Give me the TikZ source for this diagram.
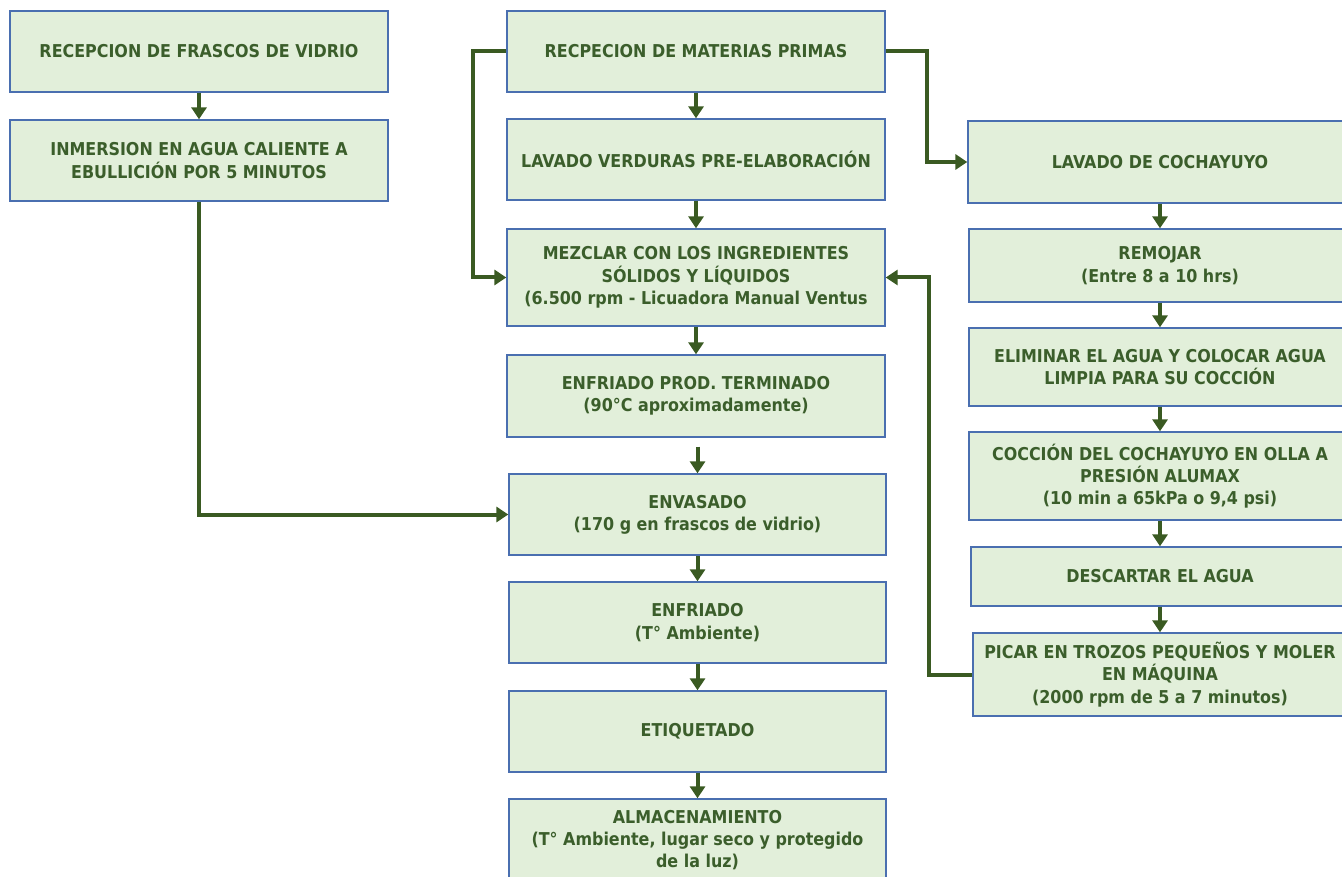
\documentclass[tikz,border=0pt]{standalone}
\usepackage{fontspec}
\setmainfont{DejaVu Sans Condensed}
\usetikzlibrary{arrows.meta}
\definecolor{boxfill}{HTML}{E2EFDA}
\definecolor{boxline}{HTML}{4A6FB0}
\definecolor{txtgreen}{HTML}{3B5E2B}
\definecolor{arrgreen}{HTML}{3A5A22}
\tikzset{
  stepbox/.style={draw=boxline, line width=1.3pt, fill=boxfill, inner sep=0pt,
    align=center, text=txtgreen, font=\fontsize{17.7}{22.3}\selectfont\bfseries},
  arr/.style={draw=arrgreen, line width=4pt,
    -{Triangle[length=12pt,width=15pt]}}
}
\begin{document}
\begin{tikzpicture}[x=1pt,y=-1pt]
\path[use as bounding box] (0,0) rectangle (1342,877);
\clip (0,0) rectangle (1342,877);
% left column
\node[stepbox, minimum width=378, minimum height=81] (n1) at (199,51.5) {RECEPCION DE FRASCOS DE VIDRIO};
\node[stepbox, minimum width=378, minimum height=81] (n2) at (199,160.5) {INMERSION EN AGUA CALIENTE A\\EBULLICIÓN POR 5 MINUTOS};
% center column
\node[stepbox, minimum width=378, minimum height=81] (n3) at (696,51.5) {RECPECION DE MATERIAS PRIMAS};
\node[stepbox, minimum width=378, minimum height=81] (n4) at (696,159.5) {LAVADO VERDURAS PRE-ELABORACIÓN};
\node[stepbox, minimum width=378, minimum height=97] (n5) at (696,277.5) {MEZCLAR CON LOS INGREDIENTES\\SÓLIDOS Y LÍQUIDOS\\(6.500 rpm - Licuadora Manual Ventus};
\node[stepbox, minimum width=378, minimum height=82] (n6) at (696,396) {ENFRIADO PROD. TERMINADO\\(90°C aproximadamente)};
\node[stepbox, minimum width=377, minimum height=81] (n7) at (697.5,514.5) {ENVASADO\\(170 g en frascos de vidrio)};
\node[stepbox, minimum width=377, minimum height=81] (n8) at (697.5,622.5) {ENFRIADO\\(T° Ambiente)};
\node[stepbox, minimum width=377, minimum height=81] (n9) at (697.5,731.5) {ETIQUETADO};
\node[stepbox, minimum width=377, minimum height=82] (n10) at (697.5,840) {ALMACENAMIENTO\\(T° Ambiente, lugar seco y protegido\\de la luz)};
% right column
\node[stepbox, minimum width=384, minimum height=82] (r1) at (1160,162) {LAVADO DE COCHAYUYO};
\node[stepbox, minimum width=382, minimum height=73] (r2) at (1160,265.5) {REMOJAR\\(Entre 8 a 10 hrs)};
\node[stepbox, minimum width=382, minimum height=78] (r3) at (1160,367) {ELIMINAR EL AGUA Y COLOCAR AGUA\\LIMPIA PARA SU COCCIÓN};
\node[stepbox, minimum width=382, minimum height=88] (r4) at (1160,476) {COCCIÓN DEL COCHAYUYO EN OLLA A\\PRESIÓN ALUMAX\\(10 min a 65kPa o 9,4 psi)};
\node[stepbox, minimum width=378, minimum height=59] (r5) at (1160,576.5) {DESCARTAR EL AGUA};
\node[stepbox, minimum width=374, minimum height=83] (r6) at (1160,674.5) {PICAR EN TROZOS PEQUEÑOS Y MOLER\\EN MÁQUINA\\(2000 rpm de 5 a 7 minutos)};
% connectors
\draw[arr] (n1) -- (n2);
\draw[arr] (n2.south) |- (n7.west);
\draw[arr] (n3) -- (n4);
\draw[arr] (n4) -- (n5);
\draw[arr] (n5) -- (n6);
\draw[arr] ([yshift=-9pt]n6.south -| n7.north) -- (n7.north);
\draw[arr] (n7) -- (n8);
\draw[arr] (n8) -- (n9);
\draw[arr] (n9) -- (n10);
\draw[arr] (n3.west) -- ++(-33,0) |- (n5.west);
\draw[arr] (n3.east) -- ++(41,0) |- (r1.west);
\draw[arr] (r6.west) -- ++(-43,0) |- (n5.east);
\draw[arr] (r1) -- (r2);
\draw[arr] (r2) -- (r3);
\draw[arr] (r3) -- (r4);
\draw[arr] (r4) -- (r5);
\draw[arr] (r5) -- (r6);
\end{tikzpicture}
\end{document}
